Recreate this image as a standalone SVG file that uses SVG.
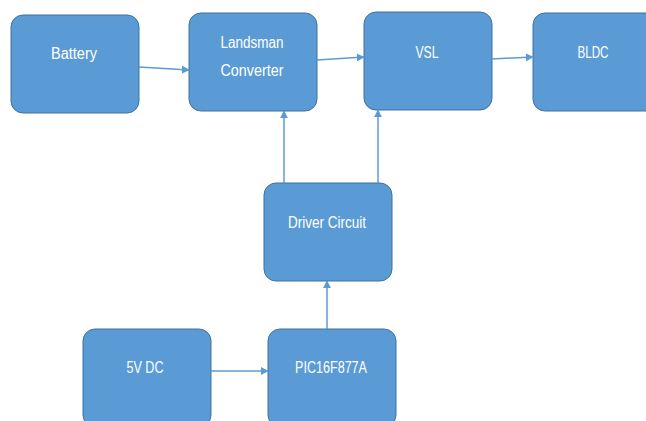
<svg xmlns="http://www.w3.org/2000/svg" width="646" height="421" viewBox="0 0 646 421">
  <style>
    .box { fill: #5b9bd5; stroke: #41719c; stroke-width: 1; }
    .lbl { fill: #ffffff; font-family: "Liberation Sans", Arial, sans-serif; font-size: 16px; text-anchor: middle; dominant-baseline: central; }
    .wire { fill: none; stroke: #5b9bd5; stroke-width: 1.5; marker-end: url(#arrow); }
  </style>
  <defs>
    <marker id="arrow" viewBox="0 0 10 10" refX="9" refY="5" markerWidth="8" markerHeight="8" markerUnits="userSpaceOnUse" orient="auto">
      <path d="M0,0 L10,5 L0,10 z" fill="#5b9bd5"/>
    </marker>
  </defs>
  <rect width="646" height="421" fill="#ffffff"/>

  <g id="battery">
    <rect class="box" x="11" y="15" width="128" height="98" rx="12"/>
    <text class="lbl" x="74" y="53" textLength="46" lengthAdjust="spacingAndGlyphs">Battery</text>
  </g>
  <g id="landsman">
    <rect class="box" x="189" y="13" width="128" height="98" rx="12"/>
    <text class="lbl" x="252" y="42" textLength="63" lengthAdjust="spacingAndGlyphs">Landsman</text>
    <text class="lbl" x="252" y="70" textLength="63" lengthAdjust="spacingAndGlyphs">Converter</text>
  </g>
  <g id="vsl">
    <rect class="box" x="364" y="12" width="128" height="98" rx="12"/>
    <text class="lbl" x="427" y="52" textLength="23" lengthAdjust="spacingAndGlyphs">VSL</text>
  </g>
  <g id="bldc">
    <rect class="box" x="533" y="13" width="128" height="98" rx="12"/>
    <text class="lbl" x="593" y="52" textLength="31" lengthAdjust="spacingAndGlyphs">BLDC</text>
  </g>
  <g id="driver">
    <rect class="box" x="264" y="183" width="128" height="98" rx="12"/>
    <text class="lbl" x="327" y="222" textLength="78" lengthAdjust="spacingAndGlyphs">Driver Circuit</text>
  </g>
  <g id="dc5v">
    <rect class="box" x="83" y="329" width="128" height="98" rx="12"/>
    <text class="lbl" x="145" y="367" textLength="37" lengthAdjust="spacingAndGlyphs">5V DC</text>
  </g>
  <g id="pic">
    <rect class="box" x="268" y="329" width="128" height="98" rx="12"/>
    <text class="lbl" x="331" y="367" textLength="72" lengthAdjust="spacingAndGlyphs">PIC16F877A</text>
  </g>

  <g id="connectors">
    <path class="wire" d="M139,67 L189,70"/>
    <path class="wire" d="M317,60 L364,57"/>
    <path class="wire" d="M492,59 L533,57"/>
    <path class="wire" d="M284,183 L284,111"/>
    <path class="wire" d="M378,183 L378,110"/>
    <path class="wire" d="M327,329 L327,281"/>
    <path class="wire" d="M211,371 L268,371"/>
  </g>
</svg>
